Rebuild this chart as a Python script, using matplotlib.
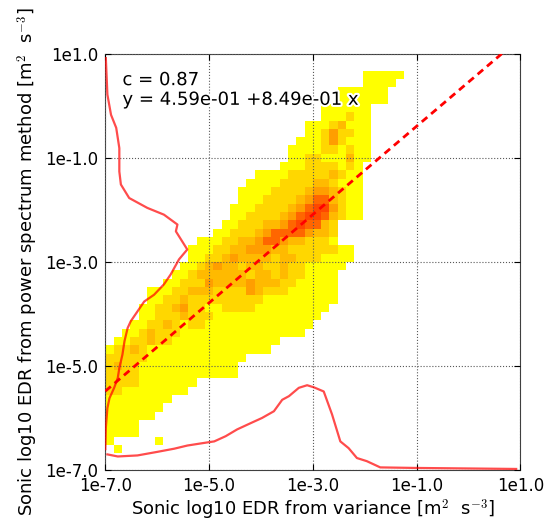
import numpy as np
import matplotlib
matplotlib.use('Agg')
import matplotlib.pyplot as plt
import matplotlib.patheffects as pe

plt.rcParams['mathtext.fontset'] = 'cm'

# 50 x 50 bins over log10 EDR in [-7, 1]
bin_lo, bin_hi, n_bins = -7.0, 1.0, 50

# shading level of each occupied bin (0 empty .. 6 densest)
# one entry per bin row, from the top row (47) downwards: (first column, levels)
top_row = 47
hist_rows = [
    (31, "11111"),
    (31, "1111"),
    (28, "111111"),
    (28, "111111"),
    (26, "111111"),
    (26, "111211"),
    (24, "11123111"),
    (24, "11242211"),
    (23, "111242111"),
    (22, "1111221211"),
    (22, "1122111311"),
    (21, "1112222121"),
    (18, "1111222223211"),
    (17, "11112222332111"),
    (16, "111122223443211"),
    (16, "111222234553211"),
    (15, "1112222345664211"),
    (15, "1122223456653211"),
    (14, "11222334565532"),
    (13, "112223455554332"),
    (11, "11122334554332221"),
    (10, "11122334443322222211"),
    (10, "11223433332332221111"),
    (9, "11234332332232211111"),
    (8, "11233333323323221111"),
    (7, "112224333343332211111"),
    (5, "11122333222243222111111"),
    (5, "11223222222222111111111"),
    (4, "11223422112222111111111"),
    (4, "1122232221111111111111"),
    (3, "1122321221111111111111"),
    (2, "1123222111111111111111"),
    (1, "11223221111111111111"),
    (0, "12232111111111111111"),
    (0, "22222111111111111"),
    (0, "2322111111111111"),
    (0, "2222111111111111"),
    (0, "22221111111"),
    (0, "2211111111"),
    (0, "11111111"),
    (0, "1111111"),
    (0, "111111"),
    (0, "1111"),
    (0, "1111"),
    (0, "1.....1"),
    (1, "1"),
]
level_value = [np.nan, 0.0, 0.16, 0.27, 0.38, 0.60, 0.72]

# marginal distribution of y, drawn against the left edge
ymarg_y = [0.92, 0.22, -0.17, -0.42, -0.81, -1.06, -1.26, -1.51, -1.77, -1.96,
           -2.09, -2.28, -2.41, -2.76, -2.95, -3.24, -3.43, -3.63, -3.76, -3.95,
           -4.14, -4.27, -4.52, -4.78, -5.04, -5.23, -5.42, -5.62, -5.81, -6.19,
           -6.60]
ymarg_x = [-6.99, -6.96, -6.89, -6.79, -6.73, -6.73, -6.73, -6.70, -6.54, -6.19,
           -5.87, -5.61, -5.64, -5.42, -5.58, -5.74, -5.87, -6.06, -6.25, -6.38,
           -6.51, -6.57, -6.63, -6.67, -6.73, -6.76, -6.83, -6.92, -6.96, -6.99,
           -7.00]

# marginal distribution of x, drawn against the bottom edge
xmarg_x = [-6.96, -6.76, -6.38, -5.99, -5.67, -5.42, -5.10, -4.90, -4.68, -4.46,
           -4.20, -3.98, -3.75, -3.59, -3.46, -3.27, -3.11, -2.98, -2.79, -2.63,
           -2.47, -2.31, -2.15, -1.96, -1.70, -1.06, 0.92]
xmarg_y = [-6.70, -6.74, -6.72, -6.65, -6.59, -6.53, -6.48, -6.45, -6.35, -6.22,
           -6.10, -6.00, -5.87, -5.65, -5.58, -5.42, -5.37, -5.41, -5.49, -5.93,
           -6.45, -6.58, -6.77, -6.83, -6.95, -6.96, -6.98]

corr = 0.87
intercept, slope = 4.59e-01, 8.49e-01
ticks = [-7, -5, -3, -1, 1]

edges = np.linspace(bin_lo, bin_hi, n_bins + 1)
Z = np.full((n_bins, n_bins), np.nan)
for i, (c0, levels) in enumerate(hist_rows):
    r = top_row - i
    for j, ch in enumerate(levels):
        if ch != '.':
            Z[r, c0 + j] = level_value[int(ch)]

fig = plt.figure(figsize=(5.44, 5.21), dpi=100)
ax = fig.add_axes([0.1936, 0.0979, 0.7629, 0.7985])

ax.pcolormesh(edges, edges, np.ma.masked_invalid(Z), cmap='autumn_r',
              vmin=0, vmax=1, zorder=1)

xx = np.array([bin_lo, bin_hi])
ax.plot(xx, intercept + slope * xx, color='red', lw=2, dashes=(2.6, 1.8), zorder=3)

ax.plot(ymarg_x, ymarg_y, color='red', alpha=0.7, lw=1.6, zorder=3)
ax.plot(xmarg_x, xmarg_y, color='red', alpha=0.7, lw=1.6, zorder=3)

ax.text(-6.67, 0.67, "c = %.2f\ny = %.2e +%.2e x" % (corr, intercept, slope),
        fontsize=13, va='top', ha='left', zorder=4, linespacing=1.12,
        path_effects=[pe.withStroke(linewidth=3, foreground='white')])

ax.set_xlim(bin_lo, bin_hi)
ax.set_ylim(bin_lo, bin_hi)
ax.set_xticks(ticks)
ax.set_yticks(ticks)
ax.set_xticklabels(["1e%.1f" % t for t in ticks])
ax.set_yticklabels(["1e%.1f" % t for t in ticks])
ax.tick_params(direction='in', length=4, top=True, right=True, labelsize=12, pad=5)
ax.grid(True, color='0.35', linestyle=':', linewidth=0.8, zorder=2)
ax.set_axisbelow(False)
for s in ax.spines.values():
    s.set_color('0.25')

ax.set_xlabel(r"Sonic log10 EDR from variance [m$^2$  s$^{-3}$]", fontsize=13,
              labelpad=2)
ax.set_ylabel(r"Sonic log10 EDR from power spectrum method [m$^2$  s$^{-3}$]",
              fontsize=13)

fig.savefig("out.png", dpi=100, facecolor='white')
